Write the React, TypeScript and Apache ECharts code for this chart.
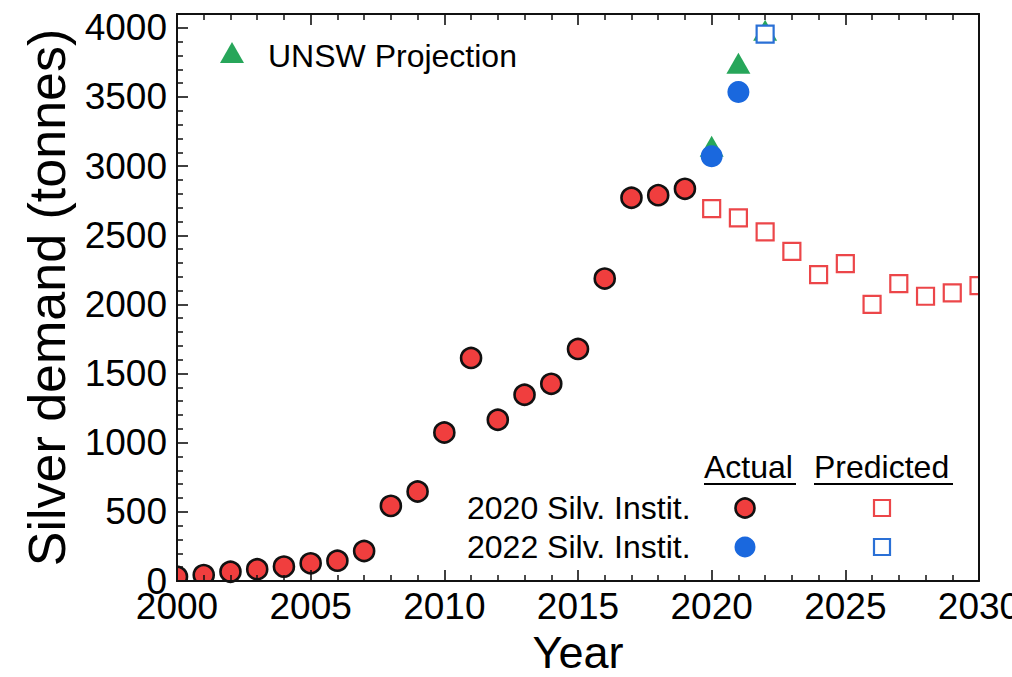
import React, { useEffect, useRef } from "react";
import * as echarts from "echarts";

// Silver demand, tonnes per year
const actual2020Years = [2000, 2001, 2002, 2003, 2004, 2005, 2006, 2007, 2008, 2009, 2010, 2011, 2012, 2013, 2014, 2015, 2016, 2017, 2018, 2019];
const actual2020Values = [31, 43, 67, 85, 104, 128, 147, 217, 543, 647, 1074, 1613, 1166, 1347, 1426, 1678, 2187, 2771, 2790, 2836];

const actual2022Years = [2020, 2021];
const actual2022Values = [3072, 3536];

const predicted2020Years = [2020, 2021, 2022, 2023, 2024, 2025, 2026, 2027, 2028, 2029, 2030];
const predicted2020Values = [2692, 2626, 2525, 2384, 2216, 2295, 2000, 2151, 2059, 2083, 2136];

const predicted2022Years = [2022];
const predicted2022Values = [3954];

const unswYears = [2020, 2021, 2022];
const unswValues = [3143, 3744, 3983];

const xTicks = { min: 2000, max: 2030, interval: 5 };
const yTicks = { min: 0, max: 4100, interval: 500 };

const RED = "#F03E3E";
const RED_OPEN = "#EC4649";
const BLUE = "#1A68DE";
const BLUE_OPEN = "#2A70D6";
const GREEN = "#27A65A";
const FONT = "'Liberation Sans', Arial, Helvetica, sans-serif";

const zip = (xs: number[], ys: number[]) => xs.map((x, i) => [x, ys[i]]);

const GRID = { left: 177, right: 33, top: 14, bottom: 96 };

const axisLine = () => ({ show: true, onZero: false, lineStyle: { color: "#111", width: 2 } });
const majorTick = () => ({ show: true, inside: true, length: 11, lineStyle: { color: "#111", width: 1.6 } });
const minorTick = () => ({ show: true, splitNumber: 5, length: 6, lineStyle: { color: "#111", width: 1.5 } });

export default function App() {
  const ref = useRef<HTMLDivElement>(null);

  useEffect(() => {
    if (!ref.current) return;
    const chart = echarts.init(ref.current, null, { renderer: "svg" });

    const option: any = {
      animation: false,
      backgroundColor: "#ffffff",
      textStyle: { fontFamily: FONT },
      grid: { ...GRID, containLabel: false, outerBoundsMode: "none" },
      xAxis: [
        {
          type: "value",
          position: "bottom",
          min: xTicks.min,
          max: xTicks.max,
          interval: xTicks.interval,
          z: 5,
          axisLine: axisLine(),
          axisTick: majorTick(),
          minorTick: minorTick(),
          splitLine: { show: false },
          axisLabel: {
            show: true,
            color: "#000",
            fontSize: 37,
            fontFamily: FONT,
            margin: 7,
            formatter: (v: number) => String(v),
          },
          name: "Year",
          nameLocation: "middle",
          nameGap: 44,
          nameTextStyle: { color: "#000", fontSize: 45, lineHeight: 45, fontFamily: FONT },
        },
        {
          type: "value",
          position: "top",
          min: xTicks.min,
          max: xTicks.max,
          interval: xTicks.interval,
          z: 5,
          axisLine: axisLine(),
          axisTick: majorTick(),
          minorTick: minorTick(),
          splitLine: { show: false },
          axisLabel: { show: false },
        },
      ],
      yAxis: [
        {
          type: "value",
          position: "left",
          min: yTicks.min,
          max: yTicks.max,
          interval: yTicks.interval,
          z: 5,
          axisLine: axisLine(),
          axisTick: majorTick(),
          minorTick: minorTick(),
          splitLine: { show: false },
          axisLabel: {
            show: true,
            color: "#000",
            fontSize: 37,
            fontFamily: FONT,
            margin: 10,
            formatter: (v: number) => (v % 500 === 0 && v <= 4000 ? String(v) : ""),
          },
          name: "Silver demand (tonnes)",
          nameLocation: "middle",
          nameGap: 104,
          nameTextStyle: { color: "#000", fontSize: 52, fontFamily: FONT },
        },
        {
          type: "value",
          position: "right",
          min: yTicks.min,
          max: yTicks.max,
          interval: yTicks.interval,
          z: 5,
          axisLine: axisLine(),
          axisTick: { show: false },
          splitLine: { show: false },
          axisLabel: { show: false },
        },
      ],
      series: [
        {
          name: "UNSW Projection",
          type: "scatter",
          clip: false,
          z: 2,
          symbol: "triangle",
          symbolSize: [24, 21],
          itemStyle: { color: GREEN, opacity: 1 },
          data: zip(unswYears, unswValues),
        },
        {
          name: "2020 Silv. Instit. (actual)",
          type: "scatter",
          clip: false,
          z: 2,
          symbol: "circle",
          symbolSize: 20,
          itemStyle: { color: RED, borderColor: "#111", borderWidth: 2.6, opacity: 1 },
          data: zip(actual2020Years, actual2020Values),
        },
        {
          name: "2022 Silv. Instit. (actual)",
          type: "scatter",
          clip: false,
          z: 2,
          symbol: "circle",
          symbolSize: 22,
          itemStyle: { color: BLUE, opacity: 1 },
          data: zip(actual2022Years, actual2022Values),
        },
        {
          name: "2020 Silv. Instit. (predicted)",
          type: "scatter",
          clip: false,
          z: 2,
          symbol: "rect",
          symbolSize: 17,
          itemStyle: { color: "#ffffff", borderColor: RED_OPEN, borderWidth: 2.2, opacity: 1 },
          data: zip(predicted2020Years, predicted2020Values),
        },
        {
          name: "2022 Silv. Instit. (predicted)",
          type: "scatter",
          clip: false,
          z: 2,
          symbol: "rect",
          symbolSize: 17,
          itemStyle: { color: "#ffffff", borderColor: BLUE_OPEN, borderWidth: 2.2, opacity: 1 },
          data: zip(predicted2022Years, predicted2022Values),
        },
      ],
      graphic: [
        // masks that trim markers overflowing the plot frame
        { type: "rect", z: 4, silent: true, shape: { x: 165, y: 555, width: 11, height: 36 }, style: { fill: "#fff" } },
        { type: "rect", z: 4, silent: true, shape: { x: 160, y: 582, width: 60, height: 8 }, style: { fill: "#fff" } },
        { type: "rect", z: 4, silent: true, shape: { x: 980, y: 260, width: 20, height: 50 }, style: { fill: "#fff" } },

        // UNSW legend entry
        {
          type: "polygon",
          z: 6,
          shape: { points: [[220, 63], [244, 63], [232, 42]] },
          style: { fill: GREEN },
        },
        {
          type: "text",
          z: 6,
          x: 268,
          y: 56,
          style: { text: "UNSW Projection", font: `32px ${FONT}`, fill: "#000", verticalAlign: "middle" },
        },

        // table legend
        {
          type: "text",
          z: 6,
          x: 704,
          y: 467,
          style: { text: "Actual", font: `32px ${FONT}`, fill: "#000", verticalAlign: "middle" },
        },
        { type: "line", z: 6, shape: { x1: 704, y1: 484, x2: 796, y2: 484 }, style: { stroke: "#000", lineWidth: 2 } },
        {
          type: "text",
          z: 6,
          x: 814,
          y: 467,
          style: { text: "Predicted", font: `32px ${FONT}`, fill: "#000", verticalAlign: "middle" },
        },
        { type: "line", z: 6, shape: { x1: 814, y1: 484, x2: 953, y2: 484 }, style: { stroke: "#000", lineWidth: 2 } },
        {
          type: "text",
          z: 6,
          x: 467,
          y: 508,
          style: { text: "2020 Silv. Instit.", font: `32px ${FONT}`, fill: "#000", verticalAlign: "middle" },
        },
        {
          type: "text",
          z: 6,
          x: 467,
          y: 547,
          style: { text: "2022 Silv. Instit.", font: `32px ${FONT}`, fill: "#000", verticalAlign: "middle" },
        },
        {
          type: "circle",
          z: 6,
          shape: { cx: 745, cy: 508, r: 9.5 },
          style: { fill: RED, stroke: "#111", lineWidth: 2.6 },
        },
        {
          type: "circle",
          z: 6,
          shape: { cx: 745, cy: 547, r: 10.5 },
          style: { fill: BLUE },
        },
        {
          type: "rect",
          z: 6,
          shape: { x: 874, y: 500, width: 16, height: 16 },
          style: { fill: "#fff", stroke: RED_OPEN, lineWidth: 2.2 },
        },
        {
          type: "rect",
          z: 6,
          shape: { x: 874, y: 539, width: 16, height: 16 },
          style: { fill: "#fff", stroke: BLUE_OPEN, lineWidth: 2.2 },
        },
      ],
    };

    chart.setOption(option);
    return () => chart.dispose();
  }, []);

  return (
    <div
      ref={ref}
      style={{ position: "absolute", left: 0, top: 0, width: 1012, height: 677, background: "#fff" }}
    />
  );
}
